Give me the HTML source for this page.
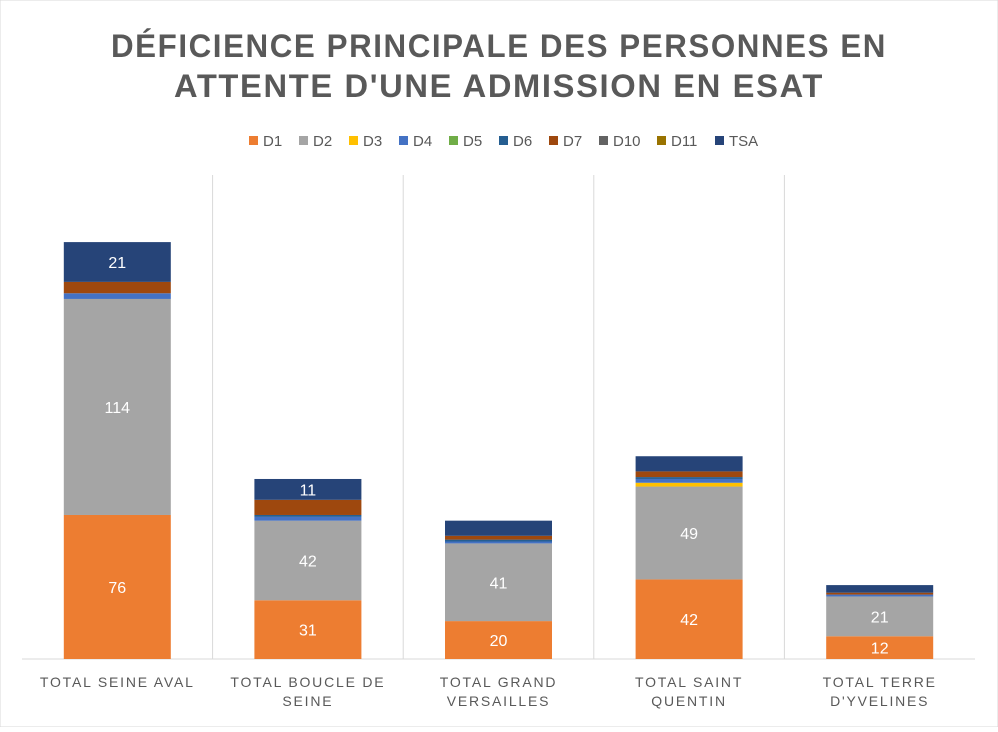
<!DOCTYPE html>
<html><head><meta charset="utf-8"><style>
body{margin:0;background:#fff;}
svg{font-family:"Liberation Sans",sans-serif;}
</style></head><body>
<svg id="chart" width="998" height="727" viewBox="0 0 998 727">
<rect x="0" y="0" width="998" height="727" fill="#fff" stroke="#d9d9d9"/>
<text x="499" y="57" text-anchor="middle" font-size="32" font-weight="bold" fill="#595959" letter-spacing="1.6" textLength="776" lengthAdjust="spacingAndGlyphs">DÉFICIENCE PRINCIPALE DES PERSONNES EN</text>
<text x="499" y="97" text-anchor="middle" font-size="32" font-weight="bold" fill="#595959" letter-spacing="1.6" textLength="650" lengthAdjust="spacingAndGlyphs">ATTENTE D'UNE ADMISSION EN ESAT</text>
<g id="legend"></g>
<g id="grid"></g>
<g id="bars"></g>
<g id="xlabels"></g>
</svg>
<script>
const categories = [["TOTAL SEINE AVAL"],["TOTAL BOUCLE DE","SEINE"],["TOTAL GRAND","VERSAILLES"],["TOTAL SAINT","QUENTIN"],["TOTAL TERRE","D'YVELINES"]];
const seriesNames = ["D1","D2","D3","D4","D5","D6","D7","D10","D11","TSA"];
const seriesColors = ["#ed7d31","#a5a5a5","#ffc000","#4472c4","#70ad47","#255e91","#9e480e","#636363","#997300","#264478"];
const D1 = [76,31,20,42,12];
const D2 = [114,42,41,49,21];
const D3 = [0,0,0,2,0];
const D4 = [3,2,1,2,1];
const D5 = [0,0,0,0,0];
const D6 = [0,1,1,1,0];
const D7 = [6,8,2,3,1];
const D10 = [0,0,0,0,0];
const D11 = [0,0,0,0,0];
const TSA = [21,11,8,8,4];
const seriesValues = [D1,D2,D3,D4,D5,D6,D7,D10,D11,TSA];

const NS="http://www.w3.org/2000/svg";
const plotL=22, plotR=975, baseY=659, pxPerUnit=1.895;
const band=(plotR-plotL)/categories.length, barW=107;
const y=v=>baseY-v*pxPerUnit;
const xc=i=>plotL+band*(i+0.5);
function mk(tag,attrs,parent){const e=document.createElementNS(NS,tag);for(const k in attrs)e.setAttribute(k,attrs[k]);parent.appendChild(e);return e;}

const grid=document.getElementById('grid');
for(let i=1;i<categories.length;i++){
  const l=mk('line',{x1:plotL+band*i,x2:plotL+band*i,y1:175,y2:baseY,stroke:'#d9d9d9'},grid);
  
  
}
const ax=mk('line',{x1:plotL,x2:plotR,y1:baseY,y2:baseY,stroke:'#d9d9d9'},grid);



const lg=document.getElementById('legend');
const lw=[50,50,50,50,50,50,50,58,58,50];
let tot=lw.reduce((a,b)=>a+b,0), lx=499-tot/2+8;
seriesNames.forEach((n,s)=>{
  const g=mk('g',{},lg);
  
  
  mk('rect',{x:lx,y:136,width:9,height:9,fill:seriesColors[s]},g);
  const t=mk('text',{x:lx+14,y:146,'font-size':15,fill:'#595959'},g);t.textContent=n;
  lx+=lw[s];
});

const bars=document.getElementById('bars');
categories.forEach((c,i)=>{
  let acc=0;
  seriesValues.forEach((arr,s)=>{
    const v=arr[i];
    if(v<=0)return;
    const r=mk('rect',{x:xc(i)-barW/2,y:y(acc+v),width:barW,height:v*pxPerUnit,fill:seriesColors[s]},bars);
    
    
    if(v>=10){
      const t=mk('text',{x:xc(i),y:y(acc+v/2)+6,'text-anchor':'middle','font-size':16,fill:'#fff'},bars);
      t.textContent=v;
      
      
    }
    acc+=v;
  });
});

const xl=document.getElementById('xlabels');
categories.forEach((c,i)=>{
  c.forEach((line,j)=>{
    const t=mk('text',{x:xc(i),y:687+j*19,'text-anchor':'middle','font-size':14,fill:'#595959','letter-spacing':'1.8'},xl);
    t.textContent=line;
    
    
  });
});
</script>
</body></html>
